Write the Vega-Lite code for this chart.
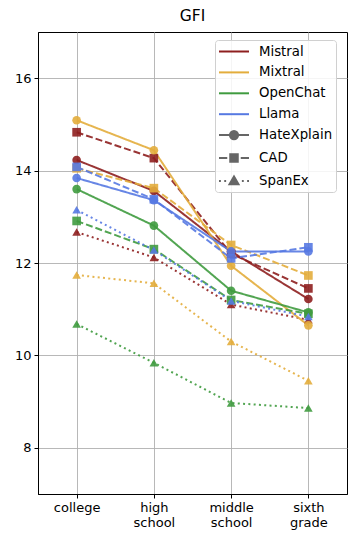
{
  "$schema": "https://vega.github.io/schema/vega-lite/v6.json",
  "autosize": {"type": "none"},
  "padding": {"left": 38, "top": 32, "right": 10, "bottom": 50},
  "width": 309,
  "height": 462,
  "title": {"text": "GFI", "fontSize": 15.5, "fontWeight": "normal", "font": "DejaVu Sans", "color": "black", "offset": 8},
  "config": {
    "font": "DejaVu Sans",
    "view": {"stroke": "black", "strokeWidth": 1},
    "axis": {
      "labelFont": "DejaVu Sans", "labelFontSize": 13, "labelColor": "black",
      "domainColor": "black", "tickColor": "black", "tickSize": 4, "labelPadding": 3,
      "gridColor": "#b0b0b0", "gridWidth": 0.9, "title": null
    }
  },
  "data": {"values": [
    {"model": "Mistral", "dataset": "HateXplain", "level": "college", "gfi": 14.23},
    {"model": "Mistral", "dataset": "HateXplain", "level": "high school", "gfi": 13.56},
    {"model": "Mistral", "dataset": "HateXplain", "level": "middle school", "gfi": 12.25},
    {"model": "Mistral", "dataset": "HateXplain", "level": "sixth grade", "gfi": 11.22},
    {"model": "Mistral", "dataset": "CAD", "level": "college", "gfi": 14.83},
    {"model": "Mistral", "dataset": "CAD", "level": "high school", "gfi": 14.27},
    {"model": "Mistral", "dataset": "CAD", "level": "middle school", "gfi": 12.2},
    {"model": "Mistral", "dataset": "CAD", "level": "sixth grade", "gfi": 11.45},
    {"model": "Mistral", "dataset": "SpanEx", "level": "college", "gfi": 12.67},
    {"model": "Mistral", "dataset": "SpanEx", "level": "high school", "gfi": 12.12},
    {"model": "Mistral", "dataset": "SpanEx", "level": "middle school", "gfi": 11.1},
    {"model": "Mistral", "dataset": "SpanEx", "level": "sixth grade", "gfi": 10.77},
    {"model": "Mixtral", "dataset": "HateXplain", "level": "college", "gfi": 15.09},
    {"model": "Mixtral", "dataset": "HateXplain", "level": "high school", "gfi": 14.44},
    {"model": "Mixtral", "dataset": "HateXplain", "level": "middle school", "gfi": 11.94},
    {"model": "Mixtral", "dataset": "HateXplain", "level": "sixth grade", "gfi": 10.65},
    {"model": "Mixtral", "dataset": "CAD", "level": "college", "gfi": 14.05},
    {"model": "Mixtral", "dataset": "CAD", "level": "high school", "gfi": 13.62},
    {"model": "Mixtral", "dataset": "CAD", "level": "middle school", "gfi": 12.39},
    {"model": "Mixtral", "dataset": "CAD", "level": "sixth grade", "gfi": 11.73},
    {"model": "Mixtral", "dataset": "SpanEx", "level": "college", "gfi": 11.74},
    {"model": "Mixtral", "dataset": "SpanEx", "level": "high school", "gfi": 11.56},
    {"model": "Mixtral", "dataset": "SpanEx", "level": "middle school", "gfi": 10.3},
    {"model": "Mixtral", "dataset": "SpanEx", "level": "sixth grade", "gfi": 9.45},
    {"model": "OpenChat", "dataset": "HateXplain", "level": "college", "gfi": 13.6},
    {"model": "OpenChat", "dataset": "HateXplain", "level": "high school", "gfi": 12.81},
    {"model": "OpenChat", "dataset": "HateXplain", "level": "middle school", "gfi": 11.4},
    {"model": "OpenChat", "dataset": "HateXplain", "level": "sixth grade", "gfi": 10.93},
    {"model": "OpenChat", "dataset": "CAD", "level": "college", "gfi": 12.91},
    {"model": "OpenChat", "dataset": "CAD", "level": "high school", "gfi": 12.3},
    {"model": "OpenChat", "dataset": "CAD", "level": "middle school", "gfi": 11.2},
    {"model": "OpenChat", "dataset": "CAD", "level": "sixth grade", "gfi": 10.9},
    {"model": "OpenChat", "dataset": "SpanEx", "level": "college", "gfi": 10.68},
    {"model": "OpenChat", "dataset": "SpanEx", "level": "high school", "gfi": 9.84},
    {"model": "OpenChat", "dataset": "SpanEx", "level": "middle school", "gfi": 8.97},
    {"model": "OpenChat", "dataset": "SpanEx", "level": "sixth grade", "gfi": 8.86},
    {"model": "Llama", "dataset": "HateXplain", "level": "college", "gfi": 13.84},
    {"model": "Llama", "dataset": "HateXplain", "level": "high school", "gfi": 13.36},
    {"model": "Llama", "dataset": "HateXplain", "level": "middle school", "gfi": 12.25},
    {"model": "Llama", "dataset": "HateXplain", "level": "sixth grade", "gfi": 12.25},
    {"model": "Llama", "dataset": "CAD", "level": "college", "gfi": 14.08},
    {"model": "Llama", "dataset": "CAD", "level": "high school", "gfi": 13.38},
    {"model": "Llama", "dataset": "CAD", "level": "middle school", "gfi": 12.1},
    {"model": "Llama", "dataset": "CAD", "level": "sixth grade", "gfi": 12.34},
    {"model": "Llama", "dataset": "SpanEx", "level": "college", "gfi": 13.15},
    {"model": "Llama", "dataset": "SpanEx", "level": "high school", "gfi": 12.28},
    {"model": "Llama", "dataset": "SpanEx", "level": "middle school", "gfi": 11.18},
    {"model": "Llama", "dataset": "SpanEx", "level": "sixth grade", "gfi": 10.84}
  ]},
  "encoding": {
    "x": {
      "field": "level", "type": "ordinal",
      "sort": ["college", "high school", "middle school", "sixth grade"],
      "scale": {"type": "point", "padding": 0.5},
      "axis": {"labelAngle": 0, "grid": true, "labelExpr": "split(datum.label, ' ')", "labelLineHeight": 15, "labelBaseline": "top"}
    },
    "y": {
      "field": "gfi", "type": "quantitative",
      "scale": {"domain": [7, 17], "nice": false, "zero": false},
      "axis": {"values": [8, 10, 12, 14, 16], "grid": true}
    },
    "color": {
      "field": "model", "type": "nominal",
      "scale": {
        "domain": ["Mistral", "Mixtral", "OpenChat", "Llama", "HateXplain", "CAD", "SpanEx"],
        "range": ["#8e1f1f", "#e3ad3c", "#3f9b3f", "#5679e2", "#666666", "#666666", "#666666"]
      },
      "legend": {
        "title": null,
        "orient": "none",
        "legendX": 177,
        "legendY": 8,
        "labelFontSize": 13.3,
        "labelColor": "black",
        "labelFont": "DejaVu Sans",
        "symbolSize": 225,
        "symbolStrokeWidth": 2,
        "labelOffset": 24,
        "rowPadding": 5.9,
        "padding": 3,
        "strokeColor": "#d0d0d0",
        "fillColor": "rgba(255,255,255,0.85)",
        "cornerRadius": 3,
        "symbolOpacity": 1,
        "encode": {
          "symbols": {
            "update": {
              "shape": {"signal": "datum.value === 'HateXplain' ? 'M-1,0H3M1.55,0A0.55,0.55 0 1,1 0.45,0A0.55,0.55 0 1,1 1.55,0Z' : datum.value === 'CAD' ? 'M-1,0H0.1M1.9,0H3M0.5,-0.5H1.5V0.5H0.5Z' : datum.value === 'SpanEx' ? 'M-1,0H-0.75M-0.3,0H-0.05M2.05,0H2.3M2.75,0H3M1,-0.6L1.6,0.45H0.4Z' : 'M-1,0H3'"},
              "fill": {"signal": "indexof(['HateXplain','CAD','SpanEx'], datum.value) >= 0 ? '#666666' : 'transparent'"},
              "stroke": {"signal": "scale('color', datum.value)"},
              "strokeDash": {"value": []},
              "opacity": {"value": 1}
            }
          }
        }
      }
    }
  },
  "layer": [
    {
      "mark": {"type": "line", "strokeWidth": 2, "opacity": 0.9},
      "encoding": {
        "strokeDash": {
          "field": "dataset", "type": "nominal",
          "scale": {"domain": ["HateXplain", "CAD", "SpanEx"], "range": [[1, 0], [7, 3], [2, 3.3]]},
          "legend": null
        }
      }
    },
    {
      "mark": {"type": "point", "filled": true, "opacity": 0.9, "size": 75},
      "encoding": {
        "shape": {
          "field": "dataset", "type": "nominal",
          "scale": {"domain": ["HateXplain", "CAD", "SpanEx"], "range": ["circle", "square", "triangle-up"]},
          "legend": null
        }
      }
    }
  ]
}
